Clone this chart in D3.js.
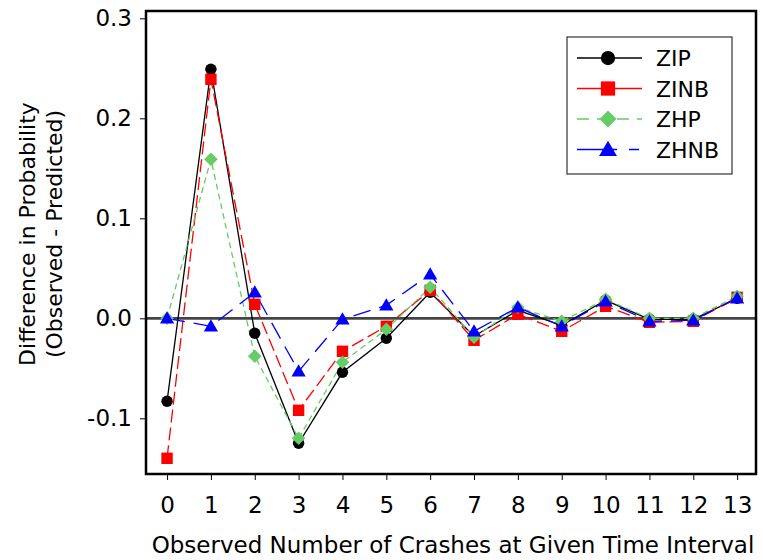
<!DOCTYPE html>
<html>
<head>
<meta charset="utf-8">
<script src="https://cdn.jsdelivr.net/npm/d3@7"></script>
<style>
  body { margin: 0; background: #fff; }
  text { font-family: "DejaVu Sans", Verdana, sans-serif; }
</style>
</head>
<body>
<div id="content"></div>
<script>
// data
var crashes = [0,1,2,3,4,5,6,7,8,9,10,11,12,13];
var zip  = [-0.083, 0.249, -0.015, -0.125, -0.054, -0.020, 0.026, -0.018, 0.008, -0.007, 0.018, -0.001, -0.001, 0.020];
var zinb = [-0.140, 0.239, 0.014, -0.092, -0.033, -0.008, 0.028, -0.022, 0.004, -0.013, 0.012, -0.004, -0.003, 0.021];
var zhp  = [0.000, 0.159, -0.038, -0.120, -0.044, -0.011, 0.031, -0.019, 0.011, -0.003, 0.019, 0.000, 0.000, 0.022];
var zhnb = [0.000, -0.008, 0.026, -0.053, -0.001, 0.013, 0.044, -0.013, 0.011, -0.008, 0.017, -0.003, -0.002, 0.020];
var yTicks = [-0.1, 0.0, 0.1, 0.2, 0.3];
var seriesNames = ["ZIP", "ZINB", "ZHP", "ZHNB"];

var W = 763, H = 560;
var pLeft = 146, pRight = 756, pTop = 11, pBottom = 474;

var svg = d3.select("#content").append("svg")
    .attr("width", W)
    .attr("height", H);

var x = d3.scaleLinear().domain([-0.48, 13.43]).range([pLeft, pRight]);
var y = d3.scaleLinear().domain([-0.1557, 0.3073]).range([pBottom, pTop]);

var series = [
  {name: seriesNames[0], values: zip,  color: "#000000", dash: null,    shape: "circle"},
  {name: seriesNames[1], values: zinb, color: "#ff0000", dash: "13,5",  shape: "square"},
  {name: seriesNames[2], values: zhp,  color: "#66cc66", dash: "6,4",   shape: "diamond"},
  {name: seriesNames[3], values: zhnb, color: "#0000ff", dash: "18,9",  shape: "triangle"}
];

// k scales the marker (legend markers are a bit bigger)
function marker(g, shape, color, k) {
  k = k || 1;
  if (shape == "circle") {
    g.append("circle").attr("r", 5.7 * k).attr("fill", color);
  } else if (shape == "square") {
    g.append("rect").attr("x", -5.7 * k).attr("y", -5.7 * k)
      .attr("width", 11.4 * k).attr("height", 11.4 * k).attr("fill", color);
  } else if (shape == "diamond") {
    var d = 6.8 * k;
    g.append("path").attr("d", "M0," + (-d) + "L" + d + ",0L0," + d + "L" + (-d) + ",0Z").attr("fill", color);
  } else {
    var h = 7 * k;
    g.append("path").attr("d", "M0," + (-h) + "L" + (h * 1.02) + "," + (h * 0.75) + "L" + (-h * 1.02) + "," + (h * 0.75) + "Z").attr("fill", color);
  }
}

//zero line
svg.append("line")
    .attr("x1", pLeft).attr("x2", pRight)
    .attr("y1", y(0)).attr("y2", y(0))
    .attr("stroke", "#444").attr("stroke-width", 2.8);

//series lines
var line = d3.line()
    .x(function(d, i) { return x(crashes[i]); })
    .y(function(d) { return y(d); });

series.forEach(function(s) {
  svg.append("path")
      .attr("d", line(s.values))
      .attr("fill", "none")
      .attr("stroke", s.color)
      .attr("stroke-width", 1.3)
      .attr("stroke-dasharray", s.dash);
});

//markers, drawn in series order so blue sits on top
series.forEach(function(s) {
  s.values.forEach(function(v, i) {
    var g = svg.append("g").attr("transform", "translate(" + x(crashes[i]) + "," + y(v) + ")");
    marker(g, s.shape, s.color);
  });
});

//axes
var yAxis = d3.axisLeft(y).tickValues(yTicks).tickSize(6).tickPadding(8)
    .tickFormat(function(d) { return d3.format(".1f")(d).replace("\u2212", "-"); });
var gy = svg.append("g").attr("transform", "translate(" + pLeft + ",0)").call(yAxis);
gy.select(".domain").remove();
gy.selectAll("text").style("font-size", "23px").attr("fill", "#000");
gy.selectAll("line").attr("stroke", "#000");

var xAxis = d3.axisBottom(x).tickValues(crashes).tickSize(6).tickPadding(17)
    .tickFormat(d3.format("d"));
var gx = svg.append("g").attr("transform", "translate(0," + pBottom + ")").call(xAxis);
gx.select(".domain").remove();
gx.selectAll("text").style("font-size", "23px").attr("fill", "#000");
gx.selectAll("line").attr("stroke", "#000");

//frame
svg.append("rect")
    .attr("x", pLeft).attr("y", pTop)
    .attr("width", pRight - pLeft).attr("height", pBottom - pTop)
    .attr("fill", "none")
    .attr("stroke", "#000").attr("stroke-width", 2.5);

//axis titles
svg.append("text")
    .attr("x", (pLeft + pRight) / 2 + 2)
    .attr("y", 553)
    .attr("text-anchor", "middle")
    .style("font-size", "23px")
    .text("Observed Number of Crashes at Given Time Interval");

var yt = svg.append("text")
    .attr("transform", "translate(0,234) rotate(-90)")
    .attr("text-anchor", "middle")
    .style("font-size", "22px");
yt.append("tspan").attr("x", 0).attr("y", 35).text("Difference in Probability");
yt.append("tspan").attr("x", 0).attr("y", 62).text("(Observed - Predicted)");

//legend
var lg = svg.append("g").attr("transform", "translate(567,37)");
lg.append("rect")
    .attr("width", 165).attr("height", 137)
    .attr("fill", "#fff")
    .attr("stroke", "#333").attr("stroke-width", 1.2);

series.forEach(function(s, i) {
  var row = lg.append("g").attr("transform", "translate(0," + (21 + i * 30.5) + ")");
  row.append("line")
      .attr("x1", 10).attr("x2", 75)
      .attr("stroke", s.color).attr("stroke-width", 1.3)
      .attr("stroke-dasharray", i == 2 ? "12,8" : (i == 3 ? "40,12,10,20" : null));
  marker(row.append("g").attr("transform", "translate(41,0)"), s.shape, s.color, 1.25);
  row.append("text")
      .attr("x", 89).attr("y", 8)
      .style("font-size", "22px")
      .text(s.name);
});
</script>
</body>
</html>
